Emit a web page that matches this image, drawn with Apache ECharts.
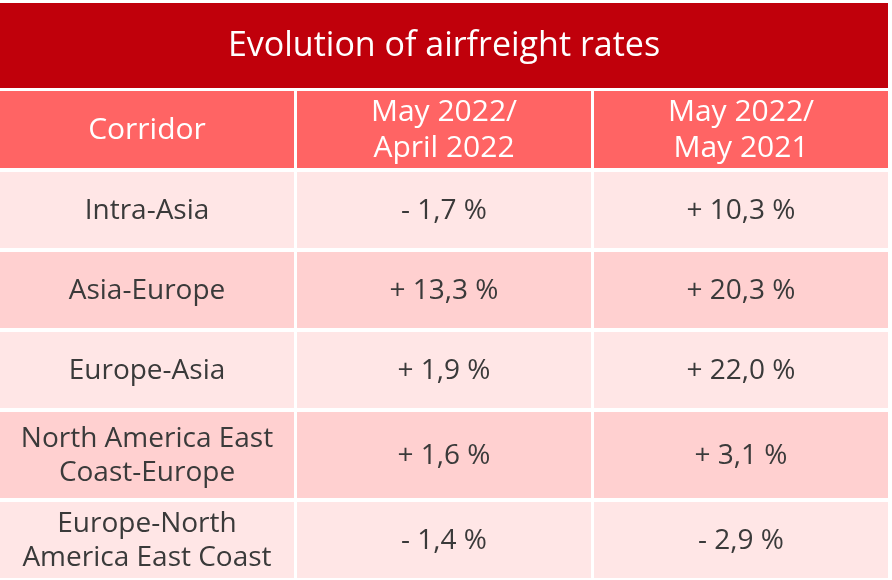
<!DOCTYPE html>
<html>
<head>
<meta charset="utf-8">
<script src="https://cdn.jsdelivr.net/npm/echarts@6/dist/echarts.min.js"></script>
<style>
  html, body { margin: 0; padding: 0; background: #fff; }
  #main { width: 892px; height: 580px; }
</style>
</head>
<body>
<div id="main"></div>
<script>
var title = 'Evolution of airfreight rates';
var headers = ['Corridor', 'May 2022/\nApril 2022', 'May 2022/\nMay 2021'];
var corridors = ['Intra-Asia', 'Asia-Europe', 'Europe-Asia', 'North America East\nCoast-Europe', 'Europe-North\nAmerica East Coast'];
var monthChange = [-1.7, 13.3, 1.9, 1.6, -1.4];
var yearChange = [10.3, 20.3, 22.0, 3.1, -2.9];

// table layout (axis units = px)
var colEdges = [0, 297, 594, 891];
var rowEdges = [3, 91, 172, 252, 332, 412, 502, 582];
var gap = 4, colGap = 3;

function fmt(v) {
  return (v < 0 ? '- ' : '+ ') + Math.abs(v).toFixed(1).replace('.', ',') + ' %';
}

// build cells: kind 0 = title, 1 = header, 2 = body
var cells = [{col: 0, row: 0, span: 3, text: title, kind: 0}];
headers.forEach(function(h, i) {
  cells.push({col: i, row: 1, span: 1, text: h, kind: 1});
});
corridors.forEach(function(c, i) {
  cells.push({col: 0, row: i + 2, span: 1, text: c, kind: 2});
  cells.push({col: 1, row: i + 2, span: 1, text: fmt(monthChange[i]), kind: 2});
  cells.push({col: 2, row: i + 2, span: 1, text: fmt(yearChange[i]), kind: 2});
});

function renderItem(params, api) {
  var cell = cells[params.dataIndex];
  var c = api.value(0), r = api.value(1), span = api.value(2);
  var p0 = api.coord([colEdges[c], rowEdges[r]]);
  var p1 = api.coord([colEdges[c + span] - colGap, rowEdges[r + 1] - (r == 0 ? 3 : gap)]);
  var fill, color, font, lh;
  if (cell.kind == 0) {
    fill = '#c0000b'; color = '#fff'; font = '34px "Open Sans"'; lh = 40;
  } else if (cell.kind == 1) {
    fill = '#ff6464'; color = '#fff'; font = '30px "Open Sans"'; lh = 36;
  } else {
    fill = r % 2 == 0 ? '#ffe6e6' : '#ffd0d0'; color = '#3a3a3a'; font = '28px "Open Sans"'; lh = 34;
  }
  return {
    type: 'group',
    children: [{
      type: 'rect',
      shape: {x: p0[0], y: p0[1], width: p1[0] - p0[0], height: p1[1] - p0[1]},
      style: {fill: fill}
    }, {
      type: 'text',
      x: (p0[0] + p1[0]) / 2,
      y: (p0[1] + p1[1]) / 2 + 1,
      style: {
        text: cell.text,
        font: font,
        fill: color,
        align: 'center',
        verticalAlign: 'middle',
        lineHeight: lh
      }
    }]
  };
}

var myChart = echarts.init(document.getElementById('main'));
var option = {
  backgroundColor: '#fff',
  animation: false,
  grid: {left: 0, right: 4, top: 0, bottom: 0},
  xAxis: {type: 'value', min: 0, max: 888, show: false},
  yAxis: {type: 'value', min: 0, max: 580, inverse: true, show: false},
  series: [{
    type: 'custom',
    renderItem: renderItem,
    encode: {x: 0, y: 1},
    data: cells.map(function(c) { return [c.col, c.row, c.span]; })
  }]
};
myChart.setOption(option);
</script>
</body>
</html>
